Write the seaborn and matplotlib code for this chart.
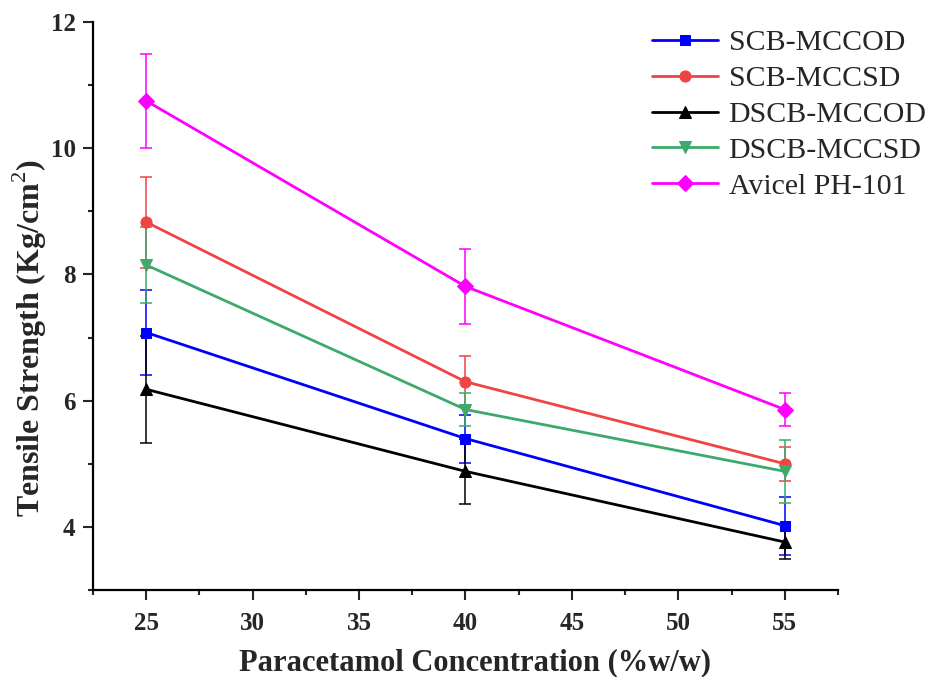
import matplotlib
matplotlib.use("Agg")
import matplotlib.pyplot as plt
import seaborn as sns
import numpy as np
import pandas as pd
from matplotlib.ticker import MultipleLocator

sns.set_theme(style="ticks")
plt.rcParams['font.family'] = ['Liberation Serif', 'DejaVu Serif']
plt.rcParams['mathtext.fontset'] = 'custom'
plt.rcParams['mathtext.rm'] = 'Liberation Serif'
plt.rcParams['mathtext.bf'] = 'Liberation Serif:bold'

conc = [25, 40, 55]
series_names = ["SCB-MCCOD", "SCB-MCCSD", "DSCB-MCCOD", "DSCB-MCCSD", "Avicel PH-101"]
scb_mccod = [7.08, 5.40, 4.02]
scb_mccod_err = [0.68, 0.38, 0.46]
scb_mccsd = [8.83, 6.30, 5.00]
scb_mccsd_err = [0.72, 0.40, 0.27]
dscb_mccod = [6.18, 4.88, 3.76]
dscb_mccod_err = [0.85, 0.52, 0.27]
dscb_mccsd = [8.15, 5.86, 4.88]
dscb_mccsd_err = [0.60, 0.26, 0.50]
avicel = [10.75, 7.81, 5.86]
avicel_err = [0.75, 0.60, 0.26]

values = [scb_mccod, scb_mccsd, dscb_mccod, dscb_mccsd, avicel]
errors = [scb_mccod_err, scb_mccsd_err, dscb_mccod_err, dscb_mccsd_err, avicel_err]
colors = ["#0000FF", "#F04343", "#000000", "#3CAA6A", "#FF00FF"]
markers = ["s", "o", "^", "v", "D"]
msizes = [7.5, 8, 8.5, 9, 8.5]

fig = plt.figure(figsize=(9.3, 6.77), dpi=100)
ax = fig.add_axes([0.1, 0.1285, 0.801, 0.839])

for name, v, e, c, m, ms in zip(series_names, values, errors, colors, markers, msizes):
    df = pd.DataFrame({"x": conc, "y": v})
    ax.errorbar(conc, v, yerr=e, fmt="none", ecolor=c, elinewidth=1.1, capsize=4.5, capthick=1.1, zorder=2)
    sns.lineplot(data=df, x="x", y="y", ax=ax, color=c, marker=m, markersize=ms,
                 markeredgecolor=c, linewidth=2, label=name, zorder=3)

ax.set_xlim(22.5, 57.5)
ax.set_ylim(3, 12)
ax.xaxis.set_major_locator(MultipleLocator(5))
ax.xaxis.set_minor_locator(MultipleLocator(2.5))
ax.yaxis.set_major_locator(MultipleLocator(2))
ax.yaxis.set_minor_locator(MultipleLocator(1))
ax.tick_params(which="major", direction="out", length=7.5, width=1.5, labelsize=18)
ax.tick_params(axis="x", which="major", pad=8)
ax.tick_params(axis="y", which="major", pad=5)
ax.tick_params(which="minor", direction="out", length=3.5, width=1.5)
for lab in ax.get_xticklabels() + ax.get_yticklabels():
    lab.set_fontweight("bold")
for s in ["top", "right"]:
    ax.spines[s].set_visible(False)
for s in ["left", "bottom"]:
    ax.spines[s].set_linewidth(1.6)
    ax.spines[s].set_color("black")

ax.set_xlabel("Paracetamol Concentration (%w/w)", fontsize=22, fontweight="bold", labelpad=10)
ax.set_ylabel("Tensile Strength (Kg/cm$^{\\rm 2}$)", fontsize=23, fontweight="bold", labelpad=1)
ax.xaxis.label.set_x(0.513)
ax.yaxis.label.set_y(0.444)

leg = ax.legend(loc="upper right", bbox_to_anchor=(1.135, 1.008), frameon=False, fontsize=21.5,
                handlelength=2.2, labelspacing=0.3, handletextpad=0.35, borderaxespad=0.0)

fig.savefig("out.png", dpi=100)
